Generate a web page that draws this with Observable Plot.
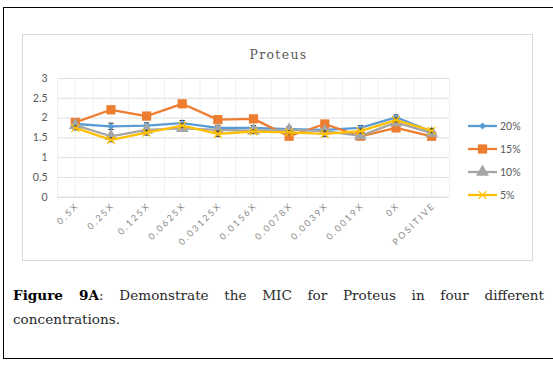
<!DOCTYPE html>
<html>
<head>
<meta charset="utf-8">
<script src="https://cdn.jsdelivr.net/npm/d3@7"></script>
<script src="https://cdn.jsdelivr.net/npm/@observablehq/plot@0.6"></script>
<style>
  html, body { margin: 0; padding: 0; background: #fff; }
  body { width: 553px; height: 370px; position: relative; overflow: hidden; }
  #frame { position: absolute; left: 3px; top: 7px; width: 600px; height: 352px; border: 1px solid #000; box-sizing: border-box; }
  #box { position: absolute; left: 22px; top: 34px; width: 511px; height: 227px; border: 1px solid #d9d9d9; box-sizing: border-box; }
  #chart { position: absolute; left: 0; top: 0; }
  #title { position: absolute; left: 0; width: 553px; top: 47px; text-align: center; padding-left: 4px; box-sizing: border-box;
           font-family: "DejaVu Serif", serif; font-size: 12.5px; letter-spacing: 1.3px; color: #595959; }
  #legend { position: absolute; left: 467px; top: 114px; font-family: Lato, "Open Sans", sans-serif; font-size: 10.5px; color: #595959; }
  #legend .item { height: 23px; display: flex; align-items: center; }
  #legend svg { margin-right: 2px; }
  #caption { position: absolute; left: 13px; top: 283px; width: 531px; font-family: "DejaVu Serif", serif; font-size: 13.6px;
             line-height: 24px; color: #2a2a2a; }
  #caption .l1 { text-align: justify; text-align-last: justify; white-space: normal; }
  #caption b { color: #000; }
</style>
</head>
<body>
<div id="frame"></div>
<div id="box"></div>
<div id="chart"></div>
<div id="title"></div>
<div id="legend"></div>
<div id="caption"><div class="l1"><b>Figure 9A</b><span>: Demonstrate the MIC for Proteus in four different</span></div><div>concentrations.</div></div>
<script>
const title = "Proteus";
const categories = ["0.5X", "0.25X", "0.125X", "0.0625X", "0.03125X", "0.0156X", "0.0078X", "0.0039X", "0.0019X", "0X", "POSITIVE"];
const seriesNames = ["20%", "15%", "10%", "5%"];
const v20 = [1.85, 1.79, 1.81, 1.87, 1.75, 1.75, 1.72, 1.70, 1.75, 2.02, 1.66];
const v15 = [1.89, 2.21, 2.05, 2.36, 1.96, 1.98, 1.54, 1.85, 1.54, 1.75, 1.54];
const v10 = [1.82, 1.54, 1.70, 1.74, 1.70, 1.68, 1.70, 1.67, 1.55, 1.89, 1.62];
const v5  = [1.75, 1.45, 1.63, 1.81, 1.60, 1.66, 1.64, 1.60, 1.67, 1.95, 1.68];
const e20 = [0.07, 0.08, 0.07, 0.07, 0.06, 0.06, 0.07, 0.06, 0.06, 0.06, 0.06];
const e15 = [0.05, 0.04, 0.04, 0.06, 0.04, 0.04, 0.04, 0.04, 0.04, 0.04, 0.04];
const e10 = [0.06, 0.05, 0.05, 0.07, 0.05, 0.05, 0.06, 0.05, 0.05, 0.06, 0.05];
const e5  = [0.05, 0.05, 0.06, 0.05, 0.07, 0.04, 0.04, 0.07, 0.05, 0.05, 0.05];
const yTicks = [0, 0.5, 1, 1.5, 2, 2.5, 3];

const colors = ["#5b9bd5", "#ed7d31", "#a5a5a5", "#ffc000"];
const symbols = ["diamond2", "square", "triangle", "times"];
const sizes = [3.2, 5.2, 4.8, 3.6];
const values = [v20, v15, v10, v5];
const errors = [e20, e15, e10, e5];

const rows = [];
seriesNames.forEach((s, si) => categories.forEach((c, i) => rows.push({series: s, si, i, cat: c, v: values[si][i], e: errors[si][i]})));

const capSymbol = { draw(ctx, size) { const w = Math.sqrt(size) / 2; ctx.moveTo(-w, 0); ctx.lineTo(w, 0); } };

const gridX = d3.range(-0.5, categories.length, 0.5);

const marks = [
  Plot.ruleY(yTicks.filter(t => t > 0), {stroke: "#dedede", strokeWidth: 1}),
  Plot.ruleX(gridX, {stroke: "#efefef", strokeWidth: 1}),
  Plot.ruleY([0], {stroke: "#d0d0d0", strokeWidth: 1})
];
seriesNames.forEach((s, si) => {
  const d = rows.filter(r => r.si === si);
  marks.push(Plot.line(d, {x: "i", y: "v", stroke: colors[si], strokeWidth: 2.3}));
  marks.push(Plot.ruleX(d, {x: "i", y1: r => r.v - r.e, y2: r => r.v + r.e, stroke: "#333", strokeWidth: 1}));
  marks.push(Plot.dot(d, {x: "i", y: r => r.v - r.e, symbol: capSymbol, r: 3, stroke: "#333", strokeWidth: 1}));
  marks.push(Plot.dot(d, {x: "i", y: r => r.v + r.e, symbol: capSymbol, r: 3, stroke: "#333", strokeWidth: 1}));
  if (symbols[si] === "times") {
    marks.push(Plot.dot(d, {x: "i", y: "v", symbol: "times", r: sizes[si], stroke: colors[si], strokeWidth: 1.3}));
  } else {
    marks.push(Plot.dot(d, {x: "i", y: "v", symbol: symbols[si], r: sizes[si], fill: colors[si], stroke: "none"}));
  }
});

const H = 262;
const chart = Plot.plot({
  width: 553,
  height: H,
  marginLeft: 57,
  marginRight: 104,
  marginTop: 78,
  marginBottom: H - 196.7,
  style: {fontFamily: "Lato, 'Open Sans', sans-serif", fontSize: "10.5px", color: "#595959", background: "transparent", overflow: "visible"},
  x: {type: "linear", domain: [-0.5, categories.length - 0.5], ticks: d3.range(categories.length), tickFormat: i => categories[i],
      tickSize: 0, tickPadding: 9, tickRotate: -45, label: null, line: false},
  y: {domain: [0, 3], ticks: yTicks, tickFormat: d => String(d), tickSize: 0, tickPadding: 10, label: null},
  marks
});
document.getElementById("chart").appendChild(chart);
d3.select(chart).selectAll('g[aria-label^="x-axis"] text')
  .style("font-size", "9px").style("letter-spacing", "2.1px").style("fill", "#8a8a8a")
  .attr("dx", "3");

document.getElementById("title").textContent = title;

const legend = d3.select("#legend");
seriesNames.forEach((s, si) => {
  const item = legend.append("div").attr("class", "item");
  const svg = item.append("svg").attr("width", 31).attr("height", 14);
  svg.append("line").attr("x1", 1).attr("x2", 30).attr("y1", 7).attr("y2", 7).attr("stroke", colors[si]).attr("stroke-width", 2.3);
  const symMap = {diamond2: d3.symbolDiamond2, square: d3.symbolSquare, triangle: d3.symbolTriangle, times: d3.symbolTimes};
  const path = svg.append("path").attr("transform", "translate(15.5,7)")
    .attr("d", d3.symbol(symMap[symbols[si]], Math.PI * sizes[si] * sizes[si])());
  if (symbols[si] === "times") path.attr("fill", "none").attr("stroke", colors[si]).attr("stroke-width", 1.3);
  else path.attr("fill", colors[si]);
  item.append("span").text(s);
});
</script>
</body>
</html>
